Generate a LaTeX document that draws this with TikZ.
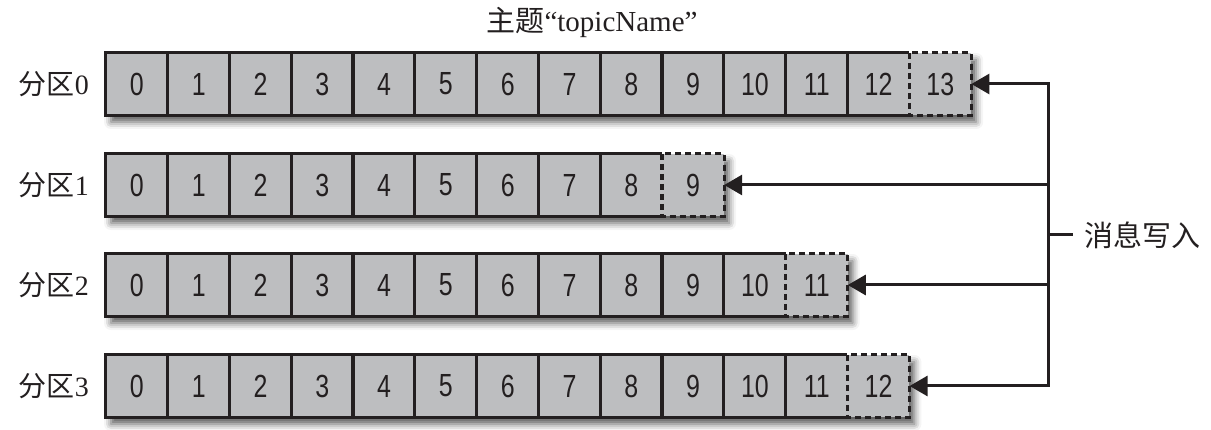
\documentclass[tikz,border=0pt]{standalone}
\usepackage{fontspec}
\setmainfont{Liberation Serif}
\newfontfamily\cjk{Noto Sans CJK SC}
\newfontfamily\numfont[FakeStretch=0.78]{Liberation Sans}
\usetikzlibrary{shadows.blur,arrows.meta}
\definecolor{cellgray}{HTML}{BDBEC0}
\definecolor{ink}{HTML}{231F20}
\begin{document}
\begin{tikzpicture}[x=1pt,y=-1pt,
  cell/.style={minimum width=61.8pt,minimum height=62pt,inner sep=0pt,
    font=\numfont\fontsize{32}{32}\selectfont,text=ink},
  rowbox/.style={fill=cellgray,blur shadow={shadow xshift=5pt,shadow yshift=-7pt,
    shadow blur radius=7pt,shadow opacity=65}},
  solidline/.style={draw=ink,line width=3.3pt,line join=miter},
  newcell/.style={draw=ink,line width=3.3pt,dash pattern=on 6pt off 4pt},
  wire/.style={draw=ink,line width=3pt},
  tip/.tip={Triangle[length=18pt,width=20pt]},
  lbl/.style={font=\fontsize{28}{28}\selectfont,text=ink,inner sep=0pt}]
\useasboundingbox (0,0) rectangle (1211,430);

\node[lbl,font=\fontsize{29}{29}\selectfont] (title) at (592,22) {{\cjk 主题}“topicName”};

\foreach \r/\n/\t in {0/14/53, 1/10/154, 2/12/254, 3/13/355}{
  \pgfmathsetmacro\xe{106+\n*61.8}
  \pgfmathtruncatemacro\m{\n-1}
  \pgfmathtruncatemacro\k{\n-2}
  \path[rowbox] (106,\t) rectangle (\xe,\t+62);
  \foreach \i in {0,...,\m}{
    \node[cell] (c\r-\i) at (106+61.8*\i+30.9,\t+31) {\i};
  }
  \draw[solidline] (c\r-\m.north west) -- (c\r-0.north west) -- (c\r-0.south west) -- (c\r-\m.south west);
  \foreach \i in {1,...,\k}{
    \draw[solidline] (c\r-\i.north west) -- (c\r-\i.south west);
  }
  \draw[newcell] (c\r-\m.north west) rectangle (c\r-\m.south east);
  \node[lbl,anchor=east] (p\r) at (89,\t+31) {{\cjk 分区}\r};
}

\coordinate (bus) at (1048,0);
\node[lbl,anchor=west,font=\cjk\fontsize{29}{29}\selectfont] (msg) at (1084,235) {消息写入};

\draw[wire,tip-tip] (c0-13.east) -- (bus |- c0-13.east) -- (bus |- c3-12.east) -- (c3-12.east);
\draw[wire,-tip] (bus |- c1-9.east) -- (c1-9.east);
\draw[wire,-tip] (bus |- c2-11.east) -- (c2-11.east);
\draw[wire] (bus |- msg.west) -- ([xshift=-11pt]msg.west);
\end{tikzpicture}
\end{document}
